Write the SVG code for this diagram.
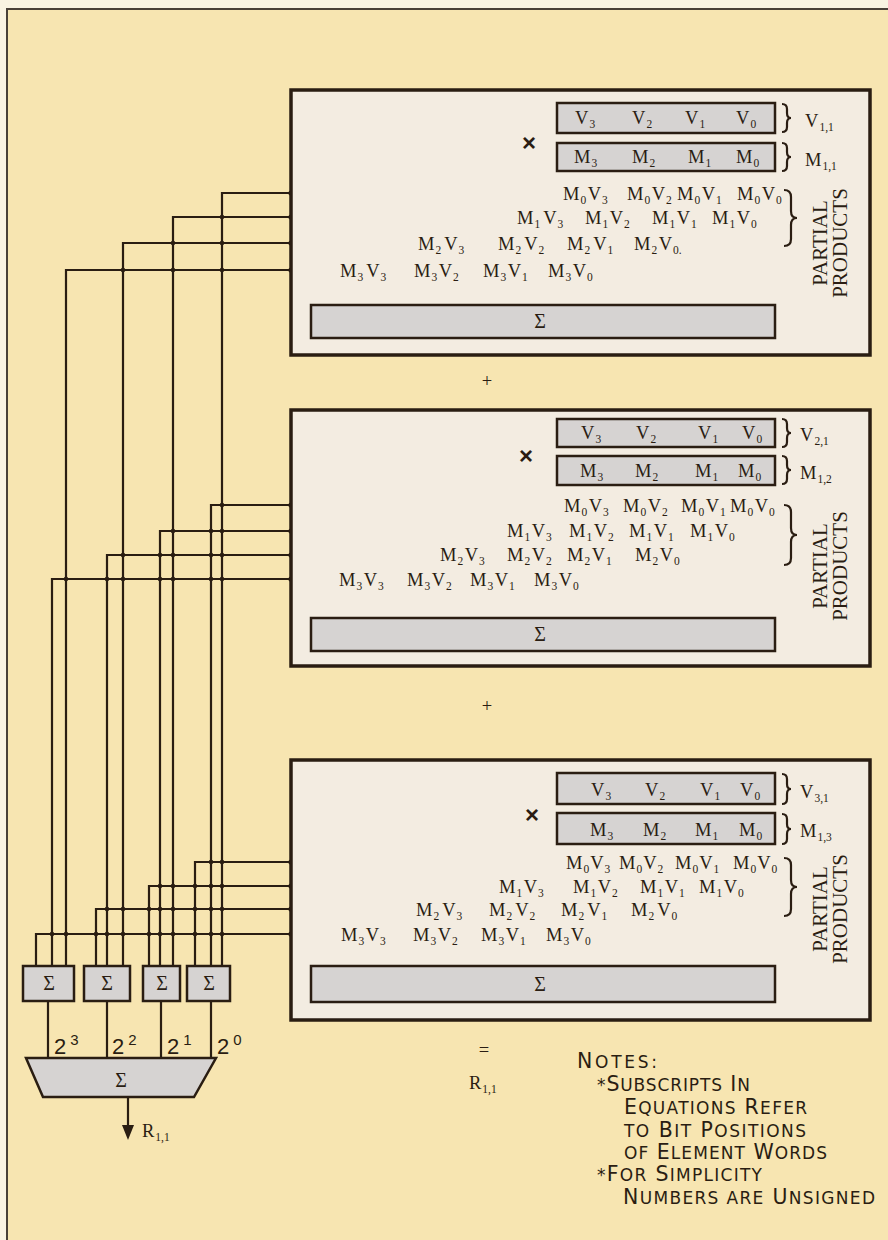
<svg xmlns="http://www.w3.org/2000/svg" width="888" height="1240" viewBox="0 0 888 1240">
<style>
.bg{fill:#f7e5b1}
.box{fill:#f3ece1;stroke:#2a1d12;stroke-width:3.5}
.reg{fill:#d6d3d2;stroke:#2a1d12;stroke-width:2.5}
.sbox{fill:#d6d3d2;stroke:#2a1d12;stroke-width:2.5}
.w{stroke:#2a1d12;stroke-width:2.2;fill:none}
.br{stroke:#2a1d12;stroke-width:2.2;fill:none}
text{font-family:"Liberation Serif","Times New Roman",serif;fill:#2a1d12}
.t{font-size:18.5px}
.s{font-size:11.5px}
.pp{font-size:21px;text-anchor:middle}
.sig{font-size:20px;text-anchor:middle}
.x{font-family:"Liberation Sans",Arial,sans-serif;font-size:24px;font-weight:bold;text-anchor:middle}
.n{font-family:"DejaVu Sans","Liberation Sans",sans-serif;font-size:20.5px}
.sc{font-size:17px}
.pw{font-family:"Liberation Sans",Arial,sans-serif;font-size:22px}
.sup{font-size:15px}
</style>
<rect x="0" y="0" width="888" height="1240" fill="#faf3e2"/>
<rect x="7" y="9" width="900" height="1250" class="bg" stroke="#4a4038" stroke-width="2"/>

<g id="connectors">
<path class="w" d="M222,966 V193 H562 M173,966 V217 H509 M123,966 V243 H408 M66,966 V270 H333"/>
<path class="w" d="M211,966 V505 H562 M160,966 V531 H495 M107,966 V555 H429 M52,966 V579 H330"/>
<path class="w" d="M195,966 V862 H565 M149,966 V886 H487 M96,966 V909 H396 M36,966 V934 H326"/>
<path class="w" d="M48,1001 V1058 M107,1001 V1058 M161,1001 V1058 M211,1001 V1058"/>
<path class="w" d="M128,1097 V1128"/>
<polygon points="122,1125 134,1125 128,1140" fill="#2a1d12"/>
<g fill="#2a1d12">
<circle cx="291" cy="193" r="2.6"/><circle cx="291" cy="217" r="2.6"/><circle cx="291" cy="243" r="2.6"/><circle cx="291" cy="270" r="2.6"/>
<circle cx="222" cy="217" r="2.3"/><circle cx="173" cy="243" r="2.3"/><circle cx="222" cy="243" r="2.3"/>
<circle cx="123" cy="270" r="2.3"/><circle cx="173" cy="270" r="2.3"/><circle cx="222" cy="270" r="2.3"/>
<circle cx="291" cy="505" r="2.6"/><circle cx="291" cy="531" r="2.6"/><circle cx="291" cy="555" r="2.6"/><circle cx="291" cy="579" r="2.6"/>
<circle cx="222" cy="505" r="2.3"/>
<circle cx="173" cy="531" r="2.3"/><circle cx="211" cy="531" r="2.3"/><circle cx="222" cy="531" r="2.3"/>
<circle cx="123" cy="555" r="2.3"/><circle cx="160" cy="555" r="2.3"/><circle cx="173" cy="555" r="2.3"/><circle cx="211" cy="555" r="2.3"/><circle cx="222" cy="555" r="2.3"/>
<circle cx="66" cy="579" r="2.3"/><circle cx="107" cy="579" r="2.3"/><circle cx="123" cy="579" r="2.3"/><circle cx="160" cy="579" r="2.3"/><circle cx="173" cy="579" r="2.3"/><circle cx="211" cy="579" r="2.3"/><circle cx="222" cy="579" r="2.3"/>
<circle cx="291" cy="862" r="2.6"/><circle cx="291" cy="886" r="2.6"/><circle cx="291" cy="909" r="2.6"/><circle cx="291" cy="934" r="2.6"/>
<circle cx="211" cy="862" r="2.3"/><circle cx="222" cy="862" r="2.3"/>
<circle cx="160" cy="886" r="2.3"/><circle cx="173" cy="886" r="2.3"/><circle cx="195" cy="886" r="2.3"/><circle cx="211" cy="886" r="2.3"/><circle cx="222" cy="886" r="2.3"/>
<circle cx="107" cy="909" r="2.3"/><circle cx="123" cy="909" r="2.3"/><circle cx="149" cy="909" r="2.3"/><circle cx="160" cy="909" r="2.3"/><circle cx="173" cy="909" r="2.3"/><circle cx="195" cy="909" r="2.3"/><circle cx="211" cy="909" r="2.3"/><circle cx="222" cy="909" r="2.3"/>
<circle cx="52" cy="934" r="2.3"/><circle cx="66" cy="934" r="2.3"/><circle cx="96" cy="934" r="2.3"/><circle cx="107" cy="934" r="2.3"/><circle cx="123" cy="934" r="2.3"/><circle cx="149" cy="934" r="2.3"/><circle cx="160" cy="934" r="2.3"/><circle cx="173" cy="934" r="2.3"/><circle cx="195" cy="934" r="2.3"/><circle cx="211" cy="934" r="2.3"/><circle cx="222" cy="934" r="2.3"/>
</g>
</g>

<g id="box1">
<rect class="box" x="291" y="90" width="579" height="265"/>
<text class="x" x="529" y="151">×</text>
<rect class="reg" x="557" y="103" width="218" height="30"/>
<rect class="reg" x="557" y="143" width="218" height="28"/>
<text class="t" x="575" y="124">V<tspan class="s" dx="1" dy="4">3</tspan></text>
<text class="t" x="632" y="124">V<tspan class="s" dx="1" dy="4">2</tspan></text>
<text class="t" x="685" y="124">V<tspan class="s" dx="1" dy="4">1</tspan></text>
<text class="t" x="736" y="124">V<tspan class="s" dx="1" dy="4">0</tspan></text>
<text class="t" x="574" y="163">M<tspan class="s" dx="1" dy="4">3</tspan></text>
<text class="t" x="632" y="163">M<tspan class="s" dx="1" dy="4">2</tspan></text>
<text class="t" x="688" y="163">M<tspan class="s" dx="1" dy="4">1</tspan></text>
<text class="t" x="736" y="163">M<tspan class="s" dx="1" dy="4">0</tspan></text>
<path class="br" d="M782,104 q5,0 5,5 v4 q0,5 4,5 q-4,0 -4,5 v4 q0,5 -5,5"/>
<path class="br" d="M782,143 q5,0 5,5 v4 q0,5 4,5 q-4,0 -4,5 v4 q0,5 -5,5"/>
<text class="t" x="805" y="127">V<tspan class="s" dx="1" dy="4">1,1</tspan></text>
<text class="t" x="805" y="166">M<tspan class="s" dx="1" dy="4">1,1</tspan></text>
<text class="t" x="563" y="200">M<tspan class="s" dx="1" dy="4">0</tspan><tspan dy="-4" dx="1.5">V</tspan><tspan class="s" dx="1" dy="4">3</tspan></text>
<text class="t" x="627" y="200">M<tspan class="s" dx="1" dy="4">0</tspan><tspan dy="-4" dx="1.5">V</tspan><tspan class="s" dx="1" dy="4">2</tspan></text>
<text class="t" x="677" y="200">M<tspan class="s" dx="1" dy="4">0</tspan><tspan dy="-4" dx="1.5">V</tspan><tspan class="s" dx="1" dy="4">1</tspan></text>
<text class="t" x="737" y="200">M<tspan class="s" dx="1" dy="4">0</tspan><tspan dy="-4" dx="1.5">V</tspan><tspan class="s" dx="1" dy="4">0</tspan></text>
<text class="t" x="517" y="224">M<tspan class="s" dx="1" dy="4">1</tspan><tspan dy="-4" dx="3">V</tspan><tspan class="s" dx="1" dy="4">3</tspan></text>
<text class="t" x="585" y="224">M<tspan class="s" dx="1" dy="4">1</tspan><tspan dy="-4" dx="1.5">V</tspan><tspan class="s" dx="1" dy="4">2</tspan></text>
<text class="t" x="652" y="224">M<tspan class="s" dx="1" dy="4">1</tspan><tspan dy="-4" dx="1.5">V</tspan><tspan class="s" dx="1" dy="4">1</tspan></text>
<text class="t" x="712" y="224">M<tspan class="s" dx="1" dy="4">1</tspan><tspan dy="-4" dx="1.5">V</tspan><tspan class="s" dx="1" dy="4">0</tspan></text>
<text class="t" x="418" y="250">M<tspan class="s" dx="1" dy="4">2</tspan><tspan dy="-4" dx="3">V</tspan><tspan class="s" dx="1" dy="4">3</tspan></text>
<text class="t" x="498" y="250">M<tspan class="s" dx="1" dy="4">2</tspan><tspan dy="-4" dx="3">V</tspan><tspan class="s" dx="1" dy="4">2</tspan></text>
<text class="t" x="567" y="250">M<tspan class="s" dx="1" dy="4">2</tspan><tspan dy="-4" dx="3">V</tspan><tspan class="s" dx="1" dy="4">1</tspan></text>
<text class="t" x="634" y="250">M<tspan class="s" dx="1" dy="4">2</tspan><tspan dy="-4" dx="1.5">V</tspan><tspan class="s" dx="1" dy="4">0.</tspan></text>
<text class="t" x="340" y="277">M<tspan class="s" dx="1" dy="4">3</tspan><tspan dy="-4" dx="3">V</tspan><tspan class="s" dx="1" dy="4">3</tspan></text>
<text class="t" x="414" y="277">M<tspan class="s" dx="1" dy="4">3</tspan><tspan dy="-4" dx="1.5">V</tspan><tspan class="s" dx="1" dy="4">2</tspan></text>
<text class="t" x="483" y="277">M<tspan class="s" dx="1" dy="4">3</tspan><tspan dy="-4" dx="1.5">V</tspan><tspan class="s" dx="1" dy="4">1</tspan></text>
<text class="t" x="548" y="277">M<tspan class="s" dx="1" dy="4">3</tspan><tspan dy="-4" dx="1.5">V</tspan><tspan class="s" dx="1" dy="4">0</tspan></text>
<path class="br" d="M784,190 q7,0 7,7 v14 q0,7 6,7 q-6,0 -6,7 v14 q0,7 -7,7"/>
<text class="pp" transform="translate(827,243) rotate(-90)">PARTIAL</text>
<text class="pp" transform="translate(847,243) rotate(-90)">PRODUCTS</text>
<rect class="reg" x="311" y="305" width="464" height="33" stroke-width="3"/>
<text class="sig" x="540" y="328">Σ</text>
</g>

<text id="plus1" class="t" x="487" y="387" text-anchor="middle">+</text>

<g id="box2">
<rect class="box" x="291" y="410" width="579" height="256"/>
<text class="x" x="526" y="464">×</text>
<rect class="reg" x="557" y="419" width="218" height="28"/>
<rect class="reg" x="557" y="456" width="218" height="29"/>
<text class="t" x="581" y="439">V<tspan class="s" dx="1" dy="4">3</tspan></text>
<text class="t" x="636" y="439">V<tspan class="s" dx="1" dy="4">2</tspan></text>
<text class="t" x="698" y="439">V<tspan class="s" dx="1" dy="4">1</tspan></text>
<text class="t" x="742" y="439">V<tspan class="s" dx="1" dy="4">0</tspan></text>
<text class="t" x="580" y="477">M<tspan class="s" dx="1" dy="4">3</tspan></text>
<text class="t" x="635" y="477">M<tspan class="s" dx="1" dy="4">2</tspan></text>
<text class="t" x="695" y="477">M<tspan class="s" dx="1" dy="4">1</tspan></text>
<text class="t" x="738" y="477">M<tspan class="s" dx="1" dy="4">0</tspan></text>
<path class="br" d="M782,419 q5,0 5,5 v4 q0,5 4,5 q-4,0 -4,5 v4 q0,5 -5,5"/>
<path class="br" d="M782,456 q5,0 5,5 v4 q0,5 4,5 q-4,0 -4,5 v4 q0,5 -5,5"/>
<text class="t" x="800" y="441">V<tspan class="s" dx="1" dy="4">2,1</tspan></text>
<text class="t" x="800" y="479">M<tspan class="s" dx="1" dy="4">1,2</tspan></text>
<text class="t" x="564" y="512">M<tspan class="s" dx="1" dy="4">0</tspan><tspan dy="-4" dx="1.5">V</tspan><tspan class="s" dx="1" dy="4">3</tspan></text>
<text class="t" x="623" y="512">M<tspan class="s" dx="1" dy="4">0</tspan><tspan dy="-4" dx="1.5">V</tspan><tspan class="s" dx="1" dy="4">2</tspan></text>
<text class="t" x="681" y="512">M<tspan class="s" dx="1" dy="4">0</tspan><tspan dy="-4" dx="1.5">V</tspan><tspan class="s" dx="1" dy="4">1</tspan></text>
<text class="t" x="730" y="512">M<tspan class="s" dx="1" dy="4">0</tspan><tspan dy="-4" dx="1.5">V</tspan><tspan class="s" dx="1" dy="4">0</tspan></text>
<text class="t" x="507" y="537">M<tspan class="s" dx="1" dy="4">1</tspan><tspan dy="-4" dx="1.5">V</tspan><tspan class="s" dx="1" dy="4">3</tspan></text>
<text class="t" x="569" y="537">M<tspan class="s" dx="1" dy="4">1</tspan><tspan dy="-4" dx="1.5">V</tspan><tspan class="s" dx="1" dy="4">2</tspan></text>
<text class="t" x="629" y="537">M<tspan class="s" dx="1" dy="4">1</tspan><tspan dy="-4" dx="1.5">V</tspan><tspan class="s" dx="1" dy="4">1</tspan></text>
<text class="t" x="690" y="537">M<tspan class="s" dx="1" dy="4">1</tspan><tspan dy="-4" dx="1.5">V</tspan><tspan class="s" dx="1" dy="4">0</tspan></text>
<text class="t" x="440" y="561">M<tspan class="s" dx="1" dy="4">2</tspan><tspan dy="-4" dx="1.5">V</tspan><tspan class="s" dx="1" dy="4">3</tspan></text>
<text class="t" x="507" y="561">M<tspan class="s" dx="1" dy="4">2</tspan><tspan dy="-4" dx="1.5">V</tspan><tspan class="s" dx="1" dy="4">2</tspan></text>
<text class="t" x="567" y="561">M<tspan class="s" dx="1" dy="4">2</tspan><tspan dy="-4" dx="1.5">V</tspan><tspan class="s" dx="1" dy="4">1</tspan></text>
<text class="t" x="635" y="561">M<tspan class="s" dx="1" dy="4">2</tspan><tspan dy="-4" dx="1.5">V</tspan><tspan class="s" dx="1" dy="4">0</tspan></text>
<text class="t" x="339" y="586">M<tspan class="s" dx="1" dy="4">3</tspan><tspan dy="-4" dx="1.5">V</tspan><tspan class="s" dx="1" dy="4">3</tspan></text>
<text class="t" x="407" y="586">M<tspan class="s" dx="1" dy="4">3</tspan><tspan dy="-4" dx="1.5">V</tspan><tspan class="s" dx="1" dy="4">2</tspan></text>
<text class="t" x="470" y="586">M<tspan class="s" dx="1" dy="4">3</tspan><tspan dy="-4" dx="1.5">V</tspan><tspan class="s" dx="1" dy="4">1</tspan></text>
<text class="t" x="534" y="586">M<tspan class="s" dx="1" dy="4">3</tspan><tspan dy="-4" dx="1.5">V</tspan><tspan class="s" dx="1" dy="4">0</tspan></text>
<path class="br" d="M784,505 q7,0 7,7 v16 q0,7 6,7 q-6,0 -6,7 v16 q0,7 -7,7"/>
<text class="pp" transform="translate(827,566) rotate(-90)">PARTIAL</text>
<text class="pp" transform="translate(847,566) rotate(-90)">PRODUCTS</text>
<rect class="reg" x="311" y="618" width="464" height="33" stroke-width="3"/>
<text class="sig" x="540" y="641">Σ</text>
</g>

<text id="plus2" class="t" x="487" y="712" text-anchor="middle">+</text>

<g id="box3">
<rect class="box" x="291" y="760" width="579" height="260"/>
<text class="x" x="532" y="823">×</text>
<rect class="reg" x="557" y="773" width="218" height="31"/>
<rect class="reg" x="557" y="813" width="218" height="31"/>
<text class="t" x="591" y="796">V<tspan class="s" dx="1" dy="4">3</tspan></text>
<text class="t" x="645" y="796">V<tspan class="s" dx="1" dy="4">2</tspan></text>
<text class="t" x="700" y="796">V<tspan class="s" dx="1" dy="4">1</tspan></text>
<text class="t" x="740" y="796">V<tspan class="s" dx="1" dy="4">0</tspan></text>
<text class="t" x="590" y="836">M<tspan class="s" dx="1" dy="4">3</tspan></text>
<text class="t" x="643" y="836">M<tspan class="s" dx="1" dy="4">2</tspan></text>
<text class="t" x="695" y="836">M<tspan class="s" dx="1" dy="4">1</tspan></text>
<text class="t" x="739" y="836">M<tspan class="s" dx="1" dy="4">0</tspan></text>
<path class="br" d="M782,774 q5,0 5,5 v5 q0,5 4,5 q-4,0 -4,5 v5 q0,5 -5,5"/>
<path class="br" d="M782,814 q5,0 5,5 v5 q0,5 4,5 q-4,0 -4,5 v5 q0,5 -5,5"/>
<text class="t" x="800" y="798">V<tspan class="s" dx="1" dy="4">3,1</tspan></text>
<text class="t" x="800" y="837">M<tspan class="s" dx="1" dy="4">1,3</tspan></text>
<text class="t" x="566" y="869">M<tspan class="s" dx="1" dy="4">0</tspan><tspan dy="-4" dx="1">V</tspan><tspan class="s" dx="1" dy="4">3</tspan></text>
<text class="t" x="619" y="869">M<tspan class="s" dx="1" dy="4">0</tspan><tspan dy="-4" dx="1">V</tspan><tspan class="s" dx="1" dy="4">2</tspan></text>
<text class="t" x="675" y="869">M<tspan class="s" dx="1" dy="4">0</tspan><tspan dy="-4" dx="1">V</tspan><tspan class="s" dx="1" dy="4">1</tspan></text>
<text class="t" x="733" y="869">M<tspan class="s" dx="1" dy="4">0</tspan><tspan dy="-4" dx="1">V</tspan><tspan class="s" dx="1" dy="4">0</tspan></text>
<text class="t" x="499" y="893">M<tspan class="s" dx="1" dy="4">1</tspan><tspan dy="-4" dx="1.5">V</tspan><tspan class="s" dx="1" dy="4">3</tspan></text>
<text class="t" x="573" y="893">M<tspan class="s" dx="1" dy="4">1</tspan><tspan dy="-4" dx="1.5">V</tspan><tspan class="s" dx="1" dy="4">2</tspan></text>
<text class="t" x="640" y="893">M<tspan class="s" dx="1" dy="4">1</tspan><tspan dy="-4" dx="1.5">V</tspan><tspan class="s" dx="1" dy="4">1</tspan></text>
<text class="t" x="699" y="893">M<tspan class="s" dx="1" dy="4">1</tspan><tspan dy="-4" dx="1.5">V</tspan><tspan class="s" dx="1" dy="4">0</tspan></text>
<text class="t" x="416" y="916">M<tspan class="s" dx="1" dy="4">2</tspan><tspan dy="-4" dx="3">V</tspan><tspan class="s" dx="1" dy="4">3</tspan></text>
<text class="t" x="489" y="916">M<tspan class="s" dx="1" dy="4">2</tspan><tspan dy="-4" dx="3">V</tspan><tspan class="s" dx="1" dy="4">2</tspan></text>
<text class="t" x="561" y="916">M<tspan class="s" dx="1" dy="4">2</tspan><tspan dy="-4" dx="3">V</tspan><tspan class="s" dx="1" dy="4">1</tspan></text>
<text class="t" x="631" y="916">M<tspan class="s" dx="1" dy="4">2</tspan><tspan dy="-4" dx="3">V</tspan><tspan class="s" dx="1" dy="4">0</tspan></text>
<text class="t" x="341" y="941">M<tspan class="s" dx="1" dy="4">3</tspan><tspan dy="-4" dx="1.5">V</tspan><tspan class="s" dx="1" dy="4">3</tspan></text>
<text class="t" x="413" y="941">M<tspan class="s" dx="1" dy="4">3</tspan><tspan dy="-4" dx="1.5">V</tspan><tspan class="s" dx="1" dy="4">2</tspan></text>
<text class="t" x="481" y="941">M<tspan class="s" dx="1" dy="4">3</tspan><tspan dy="-4" dx="1.5">V</tspan><tspan class="s" dx="1" dy="4">1</tspan></text>
<text class="t" x="546" y="941">M<tspan class="s" dx="1" dy="4">3</tspan><tspan dy="-4" dx="1.5">V</tspan><tspan class="s" dx="1" dy="4">0</tspan></text>
<path class="br" d="M784,858 q7,0 7,7 v15 q0,7 6,7 q-6,0 -6,7 v15 q0,7 -7,7"/>
<text class="pp" transform="translate(827,909) rotate(-90)">PARTIAL</text>
<text class="pp" transform="translate(847,909) rotate(-90)">PRODUCTS</text>
<rect class="reg" x="311" y="966" width="464" height="36" stroke-width="3"/>
<text class="sig" x="540" y="991">Σ</text>
</g>

<g id="sum3"><rect class="sbox" x="23" y="966" width="51" height="35"/><text class="sig" x="49" y="990">Σ</text></g>
<g id="sum2"><rect class="sbox" x="84" y="966" width="46" height="35"/><text class="sig" x="107" y="990">Σ</text></g>
<g id="sum1"><rect class="sbox" x="143" y="966" width="37" height="35"/><text class="sig" x="162" y="990">Σ</text></g>
<g id="sum0"><rect class="sbox" x="187" y="966" width="43" height="35"/><text class="sig" x="209" y="990">Σ</text></g>

<g id="weights">
<text class="pw" x="54" y="1054">2<tspan class="sup" dx="4" dy="-9">3</tspan></text>
<text class="pw" x="112" y="1054">2<tspan class="sup" dx="4" dy="-9">2</tspan></text>
<text class="pw" x="167" y="1054">2<tspan class="sup" dx="4" dy="-9">1</tspan></text>
<text class="pw" x="217" y="1054">2<tspan class="sup" dx="4" dy="-9">0</tspan></text>
</g>

<g id="final-sum">
<polygon points="26,1058 216,1058 194,1097 43,1097" fill="#d6d3d2" stroke="#2a1d12" stroke-width="2.5"/>
<text class="sig" x="121" y="1087" font-size="22">Σ</text>
</g>
<text id="r-out" class="t" x="142" y="1137" font-size="16">R<tspan class="s" dx="1" dy="4">1,1</tspan></text>

<text id="equals" class="t" x="484" y="1056" text-anchor="middle">=</text>
<text id="result" class="t" x="469" y="1089" font-size="17">R<tspan class="s" dx="1" dy="4">1,1</tspan></text>

<g id="notes">
<text class="n" x="577" y="1068" textLength="80" lengthAdjust="spacing">N<tspan class="sc">OTES:</tspan></text>
<text class="n" x="597" y="1091" textLength="153" lengthAdjust="spacing"><tspan class="sc">*</tspan>S<tspan class="sc">UBSCRIPTS</tspan> I<tspan class="sc">N</tspan></text>
<text class="n" x="624" y="1114" textLength="183" lengthAdjust="spacing">E<tspan class="sc">QUATIONS</tspan> R<tspan class="sc">EFER</tspan></text>
<text class="n" x="624" y="1137" textLength="182" lengthAdjust="spacing"><tspan class="sc">TO</tspan> B<tspan class="sc">IT</tspan> P<tspan class="sc">OSITIONS</tspan></text>
<text class="n" x="624" y="1159" textLength="203" lengthAdjust="spacing"><tspan class="sc">OF</tspan> E<tspan class="sc">LEMENT</tspan> W<tspan class="sc">ORDS</tspan></text>
<text class="n" x="597" y="1181" textLength="165" lengthAdjust="spacing"><tspan class="sc">*</tspan>F<tspan class="sc">OR</tspan> S<tspan class="sc">IMPLICITY</tspan></text>
<text class="n" x="623" y="1204" textLength="252" lengthAdjust="spacing">N<tspan class="sc">UMBERS ARE</tspan> U<tspan class="sc">NSIGNED</tspan></text>
</g>
</svg>
